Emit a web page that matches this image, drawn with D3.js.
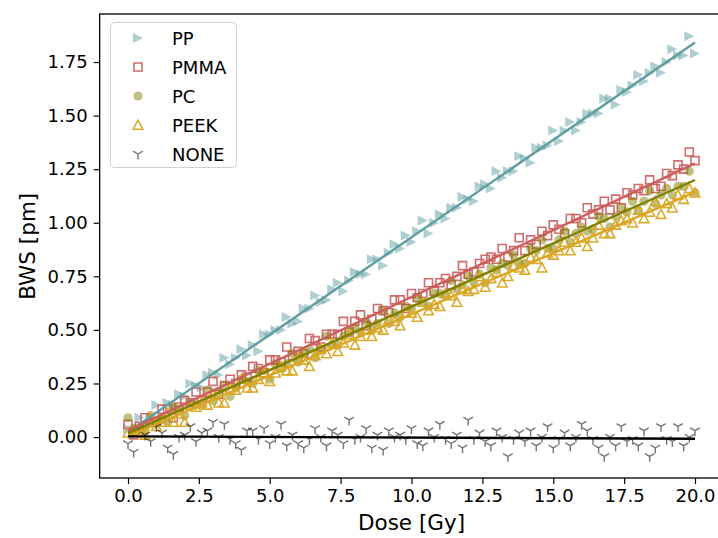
<!DOCTYPE html>
<html>
<head>
<meta charset="utf-8">
<script src="https://cdn.jsdelivr.net/npm/d3@7"></script>
<style>
    body { margin: 0; background: #fff; }
    svg { display: block; font-family: "DejaVu Sans", sans-serif; }
</style>
</head>
<body>
<svg id="chart" width="718" height="538"></svg>
<script>
// dose values shared by all series [Gy]
const dose = [0.0, 0.2, 0.4, 0.6, 0.8, 1.0, 1.2, 1.4, 1.6, 1.8,
    2.0, 2.2, 2.4, 2.6, 2.8, 3.0, 3.2, 3.4, 3.6, 3.8,
    4.0, 4.2, 4.4, 4.6, 4.8, 5.0, 5.2, 5.4, 5.6, 5.8,
    6.0, 6.2, 6.4, 6.6, 6.8, 7.0, 7.2, 7.4, 7.6, 7.8,
    8.0, 8.2, 8.4, 8.6, 8.8, 9.0, 9.2, 9.4, 9.6, 9.8,
    10.0, 10.2, 10.4, 10.6, 10.8, 11.0, 11.2, 11.4, 11.6, 11.8,
    12.0, 12.2, 12.4, 12.6, 12.8, 13.0, 13.2, 13.4, 13.6, 13.8,
    14.0, 14.2, 14.4, 14.6, 14.8, 15.0, 15.2, 15.4, 15.6, 15.8,
    16.0, 16.2, 16.4, 16.6, 16.8, 17.0, 17.2, 17.4, 17.6, 17.8,
    18.0, 18.2, 18.4, 18.6, 18.8, 19.0, 19.2, 19.4, 19.6, 19.8,
    20.0];

// BWS [pm] per material
const bwsPP = [0.04, 0.03, 0.09, 0.05, 0.09, 0.15, 0.10, 0.16, 0.15, 0.20,
    0.19, 0.25, 0.24, 0.23, 0.29, 0.30, 0.29, 0.37, 0.34, 0.37,
    0.41, 0.38, 0.43, 0.40, 0.48, 0.48, 0.50, 0.50, 0.56, 0.53,
    0.54, 0.60, 0.60, 0.66, 0.63, 0.64, 0.69, 0.72, 0.68, 0.73,
    0.77, 0.76, 0.76, 0.83, 0.83, 0.80, 0.86, 0.90, 0.88, 0.94,
    0.91, 0.96, 1.01, 0.95, 1.00, 1.04, 1.02, 1.07, 1.07, 1.12,
    1.11, 1.10, 1.17, 1.18, 1.16, 1.24, 1.21, 1.24, 1.24, 1.31,
    1.30, 1.28, 1.35, 1.35, 1.36, 1.43, 1.38, 1.43, 1.47, 1.43,
    1.47, 1.51, 1.51, 1.51, 1.58, 1.58, 1.55, 1.62, 1.61, 1.64,
    1.69, 1.66, 1.70, 1.73, 1.70, 1.75, 1.81, 1.78, 1.78, 1.87,
    1.79];

const bwsPMMA = [0.06, 0.01, 0.05, 0.09, 0.07, 0.07, 0.13, 0.13, 0.09, 0.14,
    0.17, 0.16, 0.21, 0.17, 0.21, 0.26, 0.20, 0.24, 0.27, 0.25,
    0.29, 0.28, 0.33, 0.32, 0.30, 0.36, 0.36, 0.35, 0.42, 0.38,
    0.40, 0.39, 0.46, 0.45, 0.42, 0.48, 0.48, 0.48, 0.54, 0.49,
    0.54, 0.57, 0.52, 0.55, 0.60, 0.59, 0.58, 0.64, 0.64, 0.60,
    0.67, 0.65, 0.67, 0.72, 0.68, 0.72, 0.74, 0.71, 0.75, 0.80,
    0.76, 0.77, 0.81, 0.83, 0.84, 0.83, 0.88, 0.84, 0.87, 0.93,
    0.87, 0.92, 0.90, 0.96, 0.94, 0.99, 0.97, 0.95, 1.02, 1.02,
    1.00, 1.07, 1.04, 1.06, 1.10, 1.06, 1.11, 1.07, 1.14, 1.13,
    1.16, 1.15, 1.20, 1.16, 1.17, 1.23, 1.22, 1.27, 1.25, 1.33,
    1.29];

const bwsPC = [0.09, 0.04, 0.04, 0.03, 0.10, 0.06, 0.08, 0.07, 0.14, 0.13,
    0.10, 0.16, 0.15, 0.15, 0.22, 0.17, 0.21, 0.24, 0.19, 0.23,
    0.27, 0.26, 0.25, 0.31, 0.31, 0.27, 0.34, 0.32, 0.34, 0.39,
    0.35, 0.39, 0.41, 0.37, 0.41, 0.47, 0.43, 0.43, 0.47, 0.49,
    0.51, 0.49, 0.54, 0.50, 0.53, 0.59, 0.53, 0.58, 0.56, 0.61,
    0.60, 0.65, 0.63, 0.61, 0.67, 0.67, 0.66, 0.73, 0.69, 0.71,
    0.75, 0.72, 0.76, 0.72, 0.79, 0.78, 0.81, 0.80, 0.85, 0.81,
    0.81, 0.88, 0.87, 0.92, 0.88, 0.88, 0.92, 0.96, 0.91, 0.95,
    0.98, 0.96, 0.97, 1.03, 1.02, 0.98, 1.03, 1.07, 1.05, 1.10,
    1.06, 1.10, 1.15, 1.09, 1.13, 1.16, 1.13, 1.17, 1.17, 1.24,
    1.14];

const bwsPEEK = [0.02, 0.03, 0.03, 0.01, 0.09, 0.05, 0.07, 0.11, 0.07, 0.11,
    0.07, 0.15, 0.14, 0.16, 0.15, 0.20, 0.16, 0.16, 0.23, 0.22,
    0.27, 0.23, 0.23, 0.27, 0.30, 0.26, 0.30, 0.33, 0.31, 0.31,
    0.37, 0.36, 0.33, 0.38, 0.41, 0.39, 0.44, 0.40, 0.44, 0.48,
    0.43, 0.47, 0.50, 0.47, 0.51, 0.50, 0.55, 0.54, 0.52, 0.58,
    0.58, 0.56, 0.63, 0.59, 0.62, 0.61, 0.67, 0.66, 0.63, 0.69,
    0.68, 0.69, 0.75, 0.70, 0.74, 0.77, 0.72, 0.75, 0.80, 0.79,
    0.78, 0.84, 0.83, 0.79, 0.86, 0.85, 0.87, 0.91, 0.87, 0.91,
    0.93, 0.89, 0.93, 0.99, 0.95, 0.95, 0.99, 1.01, 1.02, 1.00,
    1.06, 1.02, 1.05, 1.10, 1.04, 1.09, 1.07, 1.13, 1.11, 1.16,
    1.14];

const bwsNONE = [-0.03, -0.07, 0.04, 0.01, -0.02, 0.05, 0.02, -0.05, -0.08, 0.00,
    0.01, 0.05, -0.02, 0.02, 0.03, 0.07, 0.00, 0.06, -0.01, -0.03,
    -0.06, 0.03, 0.03, -0.01, 0.04, -0.03, 0.00, 0.06, -0.04, 0.01,
    -0.03, -0.05, -0.01, 0.04, 0.00, -0.04, 0.03, 0.01, -0.03, 0.08,
    -0.01, 0.00, 0.04, -0.05, 0.01, -0.06, 0.03, 0.00, 0.01, -0.01,
    0.04, -0.03, -0.04, 0.03, 0.00, 0.06, -0.01, -0.03, 0.01, -0.05,
    0.08, -0.01, 0.02, -0.02, -0.04, 0.03, 0.00, -0.09, -0.01, 0.02,
    -0.02, 0.03, -0.04, 0.00, 0.05, -0.05, -0.01, 0.02, -0.04, 0.00,
    0.06, 0.03, -0.01, -0.05, -0.09, 0.00, -0.04, 0.05, -0.02, -0.01,
    -0.04, 0.03, -0.09, -0.05, 0.05, -0.01, -0.02, 0.05, -0.04, 0.00,
    0.03];

const materials = ["PP", "PMMA", "PC", "PEEK", "NONE"];
const seriesValues = [bwsPP, bwsPMMA, bwsPC, bwsPEEK, bwsNONE];
const xTicks = [0, 2.5, 5, 7.5, 10, 12.5, 15, 17.5, 20];
const yTicks = [0, 0.25, 0.5, 0.75, 1.0, 1.25, 1.5, 1.75];

// marker styles, in the order of materials
const styles = [
    { marker: "triRight", fill: "cadetblue", fillOpacity: 0.5, stroke: "none", line: "cadetblue" },
    { marker: "square", fill: "none", stroke: "indianred", strokeOpacity: 0.9, line: "indianred" },
    { marker: "circle", fill: "olive", fillOpacity: 0.5, stroke: "none", line: "olive" },
    { marker: "triUp", fill: "none", stroke: "goldenrod", strokeOpacity: 0.95, line: "goldenrod" },
    { marker: "triDown", fill: "none", stroke: "#000", strokeOpacity: 0.55, line: "#000" }
];

const markerPath = (type) => {
    if (type === "triRight") return "M-5,-5L5,0L-5,5Z";
    if (type === "square") return "M-4,-4H4V4H-4Z";
    if (type === "circle") return "M4.6,0A4.6,4.6 0 1,1 -4.6,0A4.6,4.6 0 1,1 4.6,0Z";
    if (type === "triUp") return "M0,-4.8L4.8,4.2L-4.8,4.2Z";
    return "M0,0V5.5M0,0L-4.8,-2.8M0,0L4.8,-2.8";
};

const svg = d3.select("#chart");

const plotLeft = 99.65, plotRight = 723.35, plotTop = 14, plotBottom = 478;

const x = d3.scaleLinear().domain([-1, 21]).range([plotLeft, plotRight]);
const y = d3.scaleLinear().domain([-0.191, 1.974]).range([plotBottom, plotTop]);

svg.append("defs")
    .append("clipPath")
    .attr("id", "plotClip")
    .append("rect")
    .attr("x", plotLeft)
    .attr("y", plotTop)
    .attr("width", plotRight - plotLeft)
    .attr("height", plotBottom - plotTop);

const plot = svg.append("g").attr("clip-path", "url(#plotClip)");

const drawMarker = (sel, st) => {
    sel.attr("d", markerPath(st.marker))
        .attr("fill", st.fill)
        .attr("fill-opacity", st.fillOpacity || 1)
        .attr("stroke", st.stroke)
        .attr("stroke-opacity", st.strokeOpacity || 1)
        .attr("stroke-width", st.marker === "triDown" ? 1.4 : 1.6)
        .attr("stroke-linejoin", "miter");
};

// scatter points
seriesValues.forEach((vals, k) => {
    const pts = vals.map((v, i) => ({ d: dose[i], v: v }));
    plot.append("g")
        .selectAll("path")
        .data(pts)
        .join("path")
        .attr("transform", (p) => "translate(" + x(p.d) + "," + y(p.v) + ")")
        .call(drawMarker, styles[k]);
});

// least squares fit lines
const fit = (xs, ys) => {
    const mx = d3.mean(xs), my = d3.mean(ys);
    const sxy = d3.sum(xs, (v, i) => (v - mx) * (ys[i] - my));
    const sxx = d3.sum(xs, (v) => (v - mx) * (v - mx));
    const b = sxy / sxx;
    return { a: my - b * mx, b: b };
};

const lineGen = d3.line().x((p) => x(p[0])).y((p) => y(p[1]));

seriesValues.forEach((vals, k) => {
    const f = fit(dose, vals);
    const ends = d3.extent(dose).map((d) => [d, f.a + f.b * d]);
    plot.append("path")
        .attr("d", lineGen(ends))
        .attr("fill", "none")
        .attr("stroke", styles[k].line)
        .attr("stroke-width", 2.4);
});

// axes
const xAxis = svg.append("g")
    .attr("transform", "translate(0," + plotBottom + ")")
    .call(d3.axisBottom(x).tickValues(xTicks).tickFormat(d3.format(".1f")).tickSize(6).tickPadding(5));

const yAxis = svg.append("g")
    .attr("transform", "translate(" + plotLeft + ",0)")
    .call(d3.axisLeft(y).tickValues(yTicks).tickFormat(d3.format(".2f")).tickSize(6).tickPadding(6));

[xAxis, yAxis].forEach((ax) => {
    ax.select(".domain").remove();
    ax.selectAll(".tick line").attr("stroke", "#000").attr("stroke-width", 1.2);
    ax.selectAll(".tick text")
        .attr("fill", "#000")
        .style("font-size", "18px")
        .style("font-family", "DejaVu Sans");
});

// frame
svg.append("rect")
    .attr("x", plotLeft)
    .attr("y", plotTop)
    .attr("width", plotRight - plotLeft)
    .attr("height", plotBottom - plotTop)
    .attr("fill", "none")
    .attr("stroke", "#000")
    .attr("stroke-width", 1.3);

// axis labels
svg.append("text")
    .attr("x", x(10))
    .attr("y", 530)
    .attr("text-anchor", "middle")
    .style("font-size", "21.5px")
    .text("Dose [Gy]");

svg.append("text")
    .attr("transform", "translate(35," + y(0.89) + ") rotate(-90)")
    .attr("text-anchor", "middle")
    .style("font-size", "21.5px")
    .text("BWS [pm]");

// legend
const legend = svg.append("g");

legend.append("rect")
    .attr("x", 110.5)
    .attr("y", 22.5)
    .attr("width", 126)
    .attr("height", 145)
    .attr("rx", 4)
    .attr("fill", "#fff")
    .attr("fill-opacity", 0.8)
    .attr("stroke", "#d0d0d0")
    .attr("stroke-width", 1);

materials.forEach((name, k) => {
    const ly = 38 + k * 29;
    legend.append("path")
        .attr("transform", "translate(138," + ly + ")")
        .call(drawMarker, styles[k]);
    legend.append("text")
        .attr("x", 172)
        .attr("y", ly + 6.5)
        .style("font-size", "18px")
        .text(name);
});
</script>
</body>
</html>
